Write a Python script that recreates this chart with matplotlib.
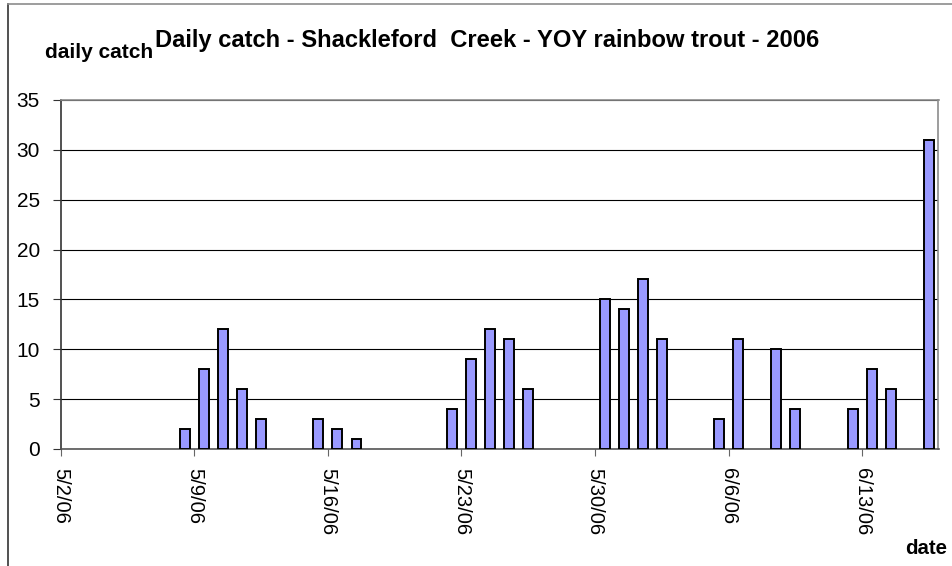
import datetime as dt
import matplotlib
matplotlib.use("Agg")
import matplotlib.pyplot as plt
import matplotlib.dates as mdates
from matplotlib.lines import Line2D

plt.rcParams['font.family'] = ['Liberation Sans', 'DejaVu Sans']

# daily catch of YOY rainbow trout, Shackleford Creek 2006
days = ["5/8", "5/9", "5/10", "5/11", "5/12",
        "5/15", "5/16", "5/17",
        "5/22", "5/23", "5/24", "5/25", "5/26",
        "5/30", "5/31", "6/1", "6/2",
        "6/5", "6/6", "6/8", "6/9",
        "6/12", "6/13", "6/14", "6/16"]
catch = [2, 8, 12, 6, 3,
         3, 2, 1,
         4, 9, 12, 11, 6,
         15, 14, 17, 11,
         3, 11, 10, 4,
         4, 8, 6, 31]
week_ticks = ["5/2", "5/9", "5/16", "5/23", "5/30", "6/6", "6/13"]
x_start = "5/2"
x_end = "6/17"
y_ticks = [0, 5, 10, 15, 20, 25, 30, 35]

def to_date(s):
    m, d = s.split("/")
    return dt.datetime(2006, int(m), int(d))

dates = [to_date(s) + dt.timedelta(hours=12) for s in days]

fig = plt.figure(figsize=(9.52, 5.66), dpi=100)
ax = fig.add_axes([60.7/952, 1-449/566, (938.5-60.7)/952, (449-100)/566])

ax.bar(dates, catch, width=0.52, color="#9999FF", edgecolor="black",
       linewidth=1.4, zorder=3)

ax.set_xlim(to_date(x_start), to_date(x_end))
ax.set_ylim(0, 35)
ax.set_yticks(y_ticks)
ax.yaxis.grid(True, color="black", linewidth=0.8, zorder=0)
ax.set_axisbelow(True)

ax.set_xticks([to_date(s) for s in week_ticks])
ax.xaxis.set_major_formatter(plt.FuncFormatter(
    lambda v, pos: "{0.month}/{0.day}/{0:%y}".format(mdates.num2date(v))))
for lab in ax.get_xticklabels():
    lab.set_rotation(-90)
    lab.set_va("top")
    lab.set_ha("center")

ax.tick_params(axis="y", direction="out", length=6, width=0.8, color="#333333",
               labelsize=15, pad=9)
ax.tick_params(axis="x", direction="out", length=5, width=0.8, color="#666666",
               labelsize=14.5, pad=9)

ax.spines["top"].set_color("#8c8c8c")
ax.spines["right"].set_color("#8c8c8c")
ax.spines["left"].set_color("#333333")
ax.spines["bottom"].set_color("#555555")
for s in ax.spines.values():
    s.set_linewidth(1.2)

fig.text(45/952, 1-58.3/566, "daily catch", fontsize=15, fontweight="bold",
         va="baseline", ha="left")
fig.text(155/952, 1-46.7/566, "Daily catch - Shackleford  Creek - YOY rainbow trout - 2006",
         fontsize=17.1, fontweight="bold", va="baseline", ha="left")
fig.text(905/952, 1-554/566, "date", fontsize=14.7, fontweight="bold",
         va="baseline", ha="left")

# chart frame, left and top edges
fig.add_artist(Line2D([8.3/952, 8.3/952], [0, 1-4/566], transform=fig.transFigure,
                      color="#333333", linewidth=1.2))
fig.add_artist(Line2D([8.3/952, 1], [1-4/566, 1-4/566], transform=fig.transFigure,
                      color="#8c8c8c", linewidth=1.2))

fig.savefig("out.png", dpi=100)
